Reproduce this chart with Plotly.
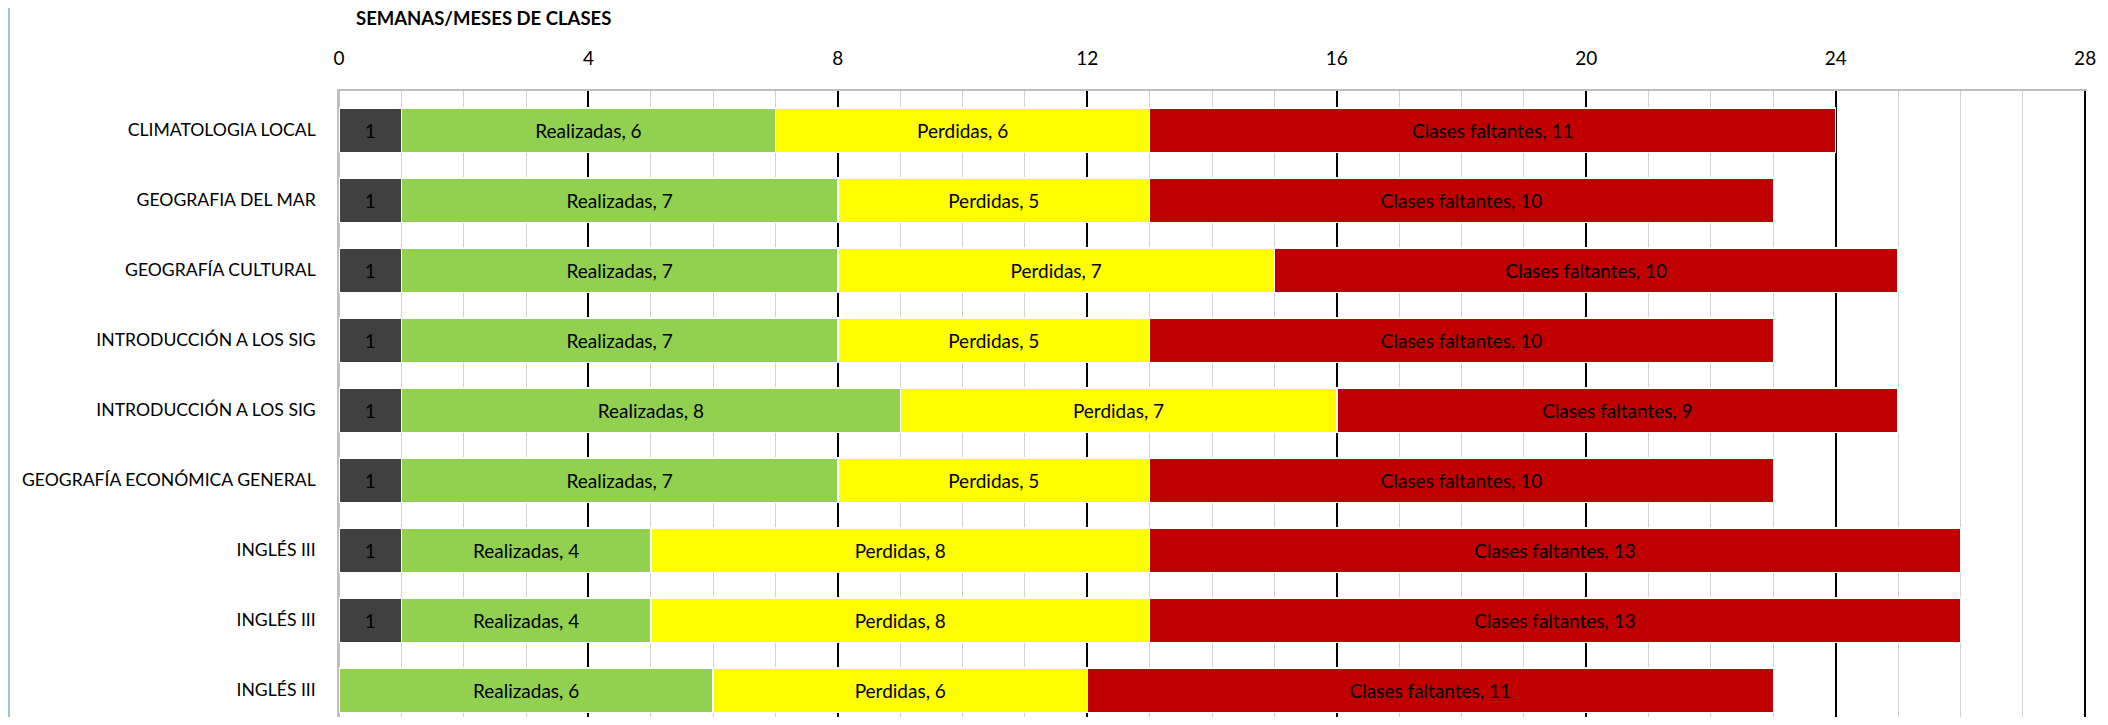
import plotly.graph_objects as go

categories = ["CLIMATOLOGIA LOCAL", "GEOGRAFIA DEL MAR", "GEOGRAFÍA CULTURAL",
              "INTRODUCCIÓN A LOS SIG", "INTRODUCCIÓN A LOS SIG",
              "GEOGRAFÍA ECONÓMICA GENERAL", "INGLÉS III", "INGLÉS III", "INGLÉS III"]
inicio = [1, 1, 1, 1, 1, 1, 1, 1, 0]
realizadas = [6, 7, 7, 7, 8, 7, 4, 4, 6]
perdidas = [6, 5, 7, 5, 7, 5, 8, 8, 6]
faltantes = [11, 10, 10, 10, 9, 10, 13, 13, 11]
x_ticks = [0, 4, 8, 12, 16, 20, 24, 28]

FONT = "Lato"
FS = 19
# page has an 8px body margin; figure placed at (8, 8)
OFF = 8
W, H = 2092, 709
L, R, T, B = 339 - OFF, 13, 91 - OFF, 0
PW, PH = W - L - R, H - T - B
PX_PER_ROW = 70.0
pos = list(range(len(categories)))
y_top = -0.56
y_bottom = y_top + PH / PX_PER_ROW

series = [
    ("", inicio, "#404040", False),
    ("Realizadas", realizadas, "#92D050", True),
    ("Perdidas", perdidas, "#FFFF00", True),
    ("Clases faltantes", faltantes, "#C00000", True),
]

fig = go.Figure()
for name, vals, color, named in series:
    texts = [(f"{name}, {v}" if named else f"{v}") if v else "" for v in vals]
    fig.add_trace(go.Bar(
        y=pos, x=vals, orientation="h", name=name or "Inicio",
        marker=dict(color=color, line=dict(color="white", width=1.5)),
        text=texts, textposition="inside", insidetextanchor="middle",
        textangle=0, constraintext="none",
        textfont=dict(family=FONT, size=FS, color="#000000"),
        width=0.63, showlegend=False,
    ))

fig.update_layout(
    barmode="stack",
    width=W, height=H,
    margin=dict(l=L, r=R, t=T, b=B, pad=0),
    plot_bgcolor="white", paper_bgcolor="white",
    font=dict(family=FONT, size=FS, color="#000000"),
    xaxis=dict(
        side="top", range=[0, 28.03], tickvals=x_ticks, automargin=False,
        showgrid=True, gridcolor="#000000", gridwidth=2,
        minor=dict(dtick=1, showgrid=True, gridcolor="#D0D0D0", gridwidth=1),
        zeroline=True, zerolinecolor="#BFBFBF", zerolinewidth=1.5,
        showline=True, linecolor="#BFBFBF", linewidth=1.5,
        ticks="", ticklabelstandoff=17,
        tickfont=dict(family=FONT, size=FS, color="#000000"),
    ),
    yaxis=dict(
        range=[y_bottom, y_top], tickvals=pos, ticktext=categories, automargin=False,
        showgrid=False, zeroline=False,
        showline=True, linecolor="#BFBFBF", linewidth=1.5,
        ticks="", ticklabelstandoff=18,
        tickfont=dict(family=FONT, size=17.6, color="#000000"),
    ),
    annotations=[dict(
        text="<b>SEMANAS/MESES DE CLASES</b>", xref="paper", yref="paper",
        x=(354 - OFF - L) / PW, y=1 + (T - (18 - OFF)) / PH,
        xanchor="left", yanchor="middle", showarrow=False,
        font=dict(family=FONT, size=18.5, color="#000000"),
    )],
    shapes=[dict(
        type="line", xref="paper", yref="paper",
        x0=(1 - L) / PW, x1=(1 - L) / PW,
        y0=-0.1, y1=1.3, line=dict(color="#9DC3E6", width=2),
    )],
)

fig.write_html("out.html")
